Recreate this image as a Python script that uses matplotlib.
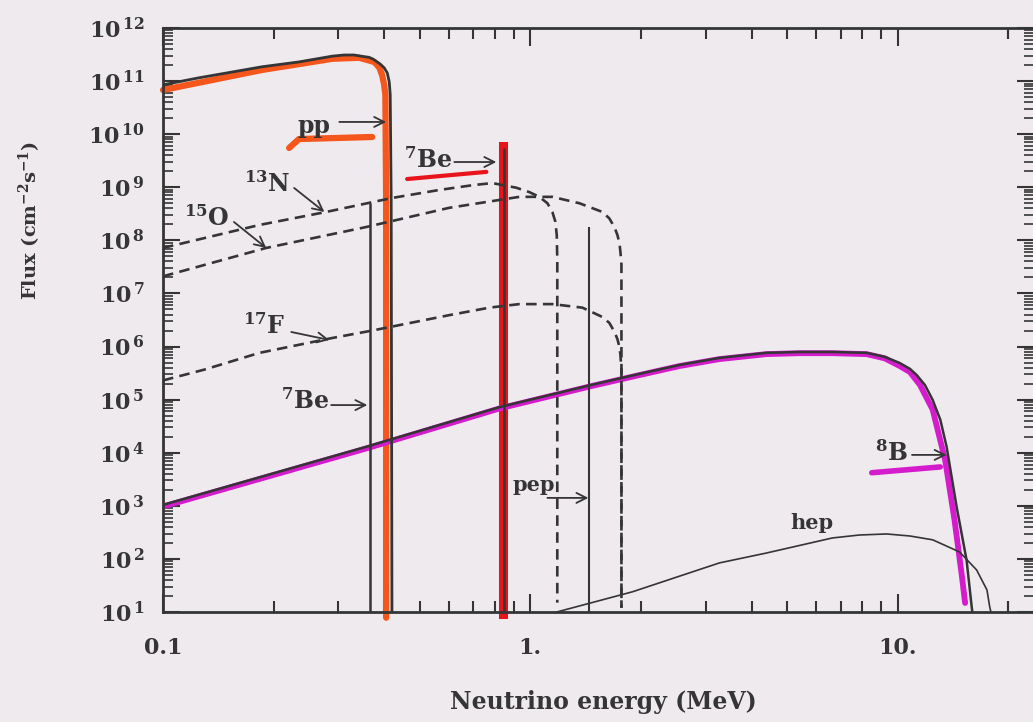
import matplotlib.pyplot as plt
from matplotlib.ticker import FixedLocator, NullFormatter

plt.rcParams['font.family'] = ['DejaVu Serif']
plt.rcParams['font.weight'] = 'bold'
plt.rcParams['mathtext.fontset'] = 'dejavuserif'

TINTA = '#353535'
FONDO = '#eeeaee'
NARANJA = '#f4561c'
ROJO = '#e8141c'
MAGENTA = '#d41ccc'

# espectro pp (MeV, cm-2 s-1)
pp_e = [0.100, 0.125, 0.186, 0.235, 0.289, 0.311, 0.331, 0.346, 0.364, 0.373, 0.383, 0.390,
        0.400, 0.408, 0.413, 0.4155, 0.418, 0.420]
pp_f = [8.5e10, 1.15e11, 1.86e11, 2.3e11, 2.95e11, 3.1e11, 3.1e11, 2.95e11, 2.8e11, 2.6e11,
        2.29e11, 2.1e11, 1.78e11, 1.42e11, 9.6e10, 5.5e10, 5.75e8, 9.0]
pp_marca_e = [0.100, 0.186, 0.289, 0.342, 0.376, 0.388, 0.395, 0.400, 0.403, 0.405, 0.405]
pp_marca_f = [6.8e10, 1.62e11, 2.63e11, 2.75e11, 2.29e11, 1.8e11, 1.29e11, 8.5e10, 5.5e10, 5.75e8, 7.8]

# lineas 7Be y pep
be7_e = [0.366, 0.850]
be7_f = [5.0e8, 5.5e9]
be7_marca_e = [0.843, 0.843]
be7_marca_f = [6.0e9, 9.0]
pep_e = [1.44]
pep_f = [1.8e8]

# ciclo CNO
n13_e = [0.100, 0.183, 0.278, 0.421, 0.565, 0.700, 0.788, 0.916, 0.994, 1.058, 1.113, 1.148,
         1.170, 1.180, 1.184, 1.184]
n13_f = [7.2e7, 1.95e8, 3.43e8, 6.3e8, 8.9e8, 1.1e9, 1.2e9, 9.8e8, 8.1e8, 6.6e8, 5.0e8, 3.43e8,
         2.24e8, 1.26e8, 4.3e7, 15]
o15_e = [0.100, 0.191, 0.357, 0.601, 0.933, 1.148, 1.360, 1.571, 1.640, 1.694, 1.726, 1.748,
         1.759, 1.770, 1.770]
o15_f = [2.1e7, 7.2e7, 1.78e8, 4.1e8, 6.6e8, 6.6e8, 5.0e8, 3.43e8, 2.6e8, 1.78e8, 1.26e8, 8.9e7,
         6.0e7, 3.5e7, 12]
f17_e = [0.100, 0.130, 0.183, 0.289, 0.371, 0.601, 0.773, 0.933, 1.148, 1.386, 1.571, 1.640,
         1.694, 1.726, 1.748, 1.759, 1.770, 1.770]
f17_f = [2.3e5, 3.7e5, 7.6e5, 1.45e6, 2.0e6, 3.9e6, 5.4e6, 6.3e6, 6.3e6, 5.4e6, 3.6e6, 2.8e6,
         1.9e6, 1.38e6, 9.8e5, 6.9e5, 3.6e5, 12]

# 8B y hep
b8_e = [0.100, 0.357, 0.823, 1.466, 1.98, 2.55, 3.27, 4.39, 5.41, 6.64, 8.23, 9.22, 10.13, 10.8,
        11.27, 11.86, 12.45, 13.06, 13.59, 14.47, 15.4, 15.9, 16.0]
b8_f = [1.04e3, 1.29e4, 7.2e4, 1.89e5, 3.05e5, 4.5e5, 6.1e5, 7.6e5, 7.9e5, 7.9e5, 7.6e5, 6.4e5,
        4.9e5, 3.8e5, 2.9e5, 1.89e5, 9.9e4, 4.2e4, 1.29e4, 955, 95, 12.6, 9]
b8_marca_e = [0.100, 0.357, 0.823, 1.466, 1.98, 2.55, 3.27, 4.39, 5.41, 6.64, 8.23, 9.22, 10.13,
              10.8, 11.5, 12.45, 13.47, 14.28, 14.94, 15.26]
b8_marca_f = [0.97e3, 1.2e4, 6.8e4, 1.8e5, 2.9e5, 4.3e5, 5.8e5, 7.2e5, 7.5e5, 7.5e5, 7.2e5, 6.0e5,
              4.3e5, 3.3e5, 1.89e5, 6.5e4, 7.2e3, 540, 50, 14.8]
hep_e = [1.18, 1.896, 3.27, 4.39, 6.64, 7.87, 9.34, 10.8, 12.45, 14.74, 16.40, 17.5, 17.8, 18.0]
hep_f = [10, 24, 84, 129, 248, 282, 295, 270, 229, 135, 62, 26, 12.6, 9]

# subrayados a mano
pp_raya_e = [0.2205, 0.2345, 0.371]
pp_raya_f = [5.5e9, 8.1e9, 8.85e9]
be7_raya_e = [0.462, 0.759]
be7_raya_f = [1.43e9, 1.95e9]
b8_raya_e = [8.50, 13.06]
b8_raya_f = [4.2e3, 5.4e3]

# etiquetas: texto, E, flujo, alineacion, tamanio
etiquetas = [
    ('pp', 0.258, 1.4e10, 'center', 17),
    (r'$^{\mathbf{7}}\mathbf{Be}$', 0.613, 3.27e9, 'right', 17),
    (r'$^{\mathbf{13}}\mathbf{N}$', 0.222, 1.15e9, 'right', 17),
    (r'$^{\mathbf{15}}\mathbf{O}$', 0.152, 2.6e8, 'right', 17),
    (r'$^{\mathbf{17}}\mathbf{F}$', 0.215, 2.45e6, 'right', 17),
    (r'$^{\mathbf{7}}\mathbf{Be}$', 0.2835, 9.4e4, 'right', 17),
    ('pep', 1.02, 2.45e3, 'center', 15),
    (r'$^{\mathbf{8}}\mathbf{B}$', 10.67, 1.0e4, 'right', 17),
    ('hep', 5.83, 480, 'center', 15),
]
flechas = [
    ((0.302, 1.7e10), (0.405, 1.7e10)),
    ((0.621, 2.99e9), (0.808, 2.99e9)),
    ((0.2275, 9.7e8), (0.275, 3.43e8)),
    ((0.156, 2.22e8), (0.191, 7.2e7)),
    ((0.2235, 1.88e6), (0.2835, 1.33e6)),
    ((0.287, 7.9e4), (0.360, 7.9e4)),
    ((1.113, 1.41e3), (1.439, 1.41e3)),
    ((10.94, 9.1e3), (13.59, 9.1e3)),
]

fig = plt.figure(figsize=(10.33, 7.22), dpi=100, facecolor=FONDO)
ax = fig.add_axes([163 / 1033, 110 / 722, 871 / 1033, 584 / 722])
ax.set_facecolor(FONDO)
ax.set_xscale('log')
ax.set_yscale('log')
ax.set_xlim(0.1, 23.5)
ax.set_ylim(10, 1e12)

# marcas de resaltador (debajo)
ax.plot(pp_marca_e, pp_marca_f, color=NARANJA, lw=4.5, solid_capstyle='round',
        solid_joinstyle='round', zorder=2, clip_on=False)
ax.plot(be7_marca_e, be7_marca_f, color=ROJO, lw=6.5, zorder=2, clip_on=False)
ax.plot(b8_marca_e, b8_marca_f, color=MAGENTA, lw=4.2, solid_capstyle='round',
        solid_joinstyle='round', zorder=2)
ax.plot(pp_raya_e, pp_raya_f, color=NARANJA, lw=4.5, solid_capstyle='round', zorder=2)
ax.plot(be7_raya_e, be7_raya_f, color=ROJO, lw=3, solid_capstyle='round', zorder=2)
ax.plot(b8_raya_e, b8_raya_f, color=MAGENTA, lw=4, solid_capstyle='round', zorder=2)

# espectros
ax.plot(pp_e, pp_f, color=TINTA, lw=2.0, solid_joinstyle='round', zorder=3)
ax.plot(b8_e, b8_f, color=TINTA, lw=1.8, solid_joinstyle='round', zorder=3)
ax.plot(hep_e, hep_f, color=TINTA, lw=1.2, solid_joinstyle='round', zorder=3)
guion = (0, (4.0, 2.4))
for e, f in [(n13_e, n13_f), (o15_e, o15_f), (f17_e, f17_f)]:
    ax.plot(e, f, color=TINTA, lw=1.9, linestyle=guion, zorder=3)
ax.vlines(be7_e, 10, be7_f, color=TINTA, lw=1.8, zorder=3)
ax.vlines(pep_e, 10, pep_f, color=TINTA, lw=1.5, zorder=3)

for texto, e, f, ha, tam in etiquetas:
    ax.text(e, f, texto, ha=ha, va='center', fontsize=tam, color=TINTA, zorder=4)
for cola, punta in flechas:
    ax.annotate('', xy=punta, xytext=cola,
                arrowprops=dict(arrowstyle='->', color=TINTA, lw=1.3, mutation_scale=18,
                                shrinkA=0, shrinkB=0), zorder=4)

# ejes
for s in ax.spines.values():
    s.set_linewidth(2.0)
    s.set_color(TINTA)

ax.xaxis.set_major_locator(FixedLocator([0.1, 1, 10]))
ax.set_xticklabels(['0.1', '1.', '10.'])
menores_x = [m * d for d in [0.1, 1, 10] for m in range(2, 10)] + [20]
ax.xaxis.set_minor_locator(FixedLocator(menores_x))
ax.xaxis.set_minor_formatter(NullFormatter())

decadas = [10.0 ** k for k in range(1, 13)]
ax.yaxis.set_major_locator(FixedLocator(decadas))
ax.set_yticklabels([r'$\mathbf{10}^{\,\mathbf{%d}}$' % k for k in range(1, 13)])
menores_y = [m * 10.0 ** k for k in range(1, 12) for m in range(2, 10)]
ax.yaxis.set_minor_locator(FixedLocator(menores_y))
ax.yaxis.set_minor_formatter(NullFormatter())

ax.tick_params(axis='x', which='both', direction='in', top=True, color=TINTA,
               labelcolor=TINTA, labelsize=16, pad=18)
ax.tick_params(axis='x', which='major', length=13, width=1.5)
ax.tick_params(axis='x', which='minor', length=8, width=1.5)
ax.tick_params(axis='y', which='both', direction='in', right=True, color=TINTA,
               labelcolor=TINTA, labelsize=16, pad=13)
ax.tick_params(axis='y', which='major', length=12, width=1.5)
ax.tick_params(axis='y', which='minor', length=7, width=1.2)

fig.text(603 / 1033, 1 - 702 / 722, 'Neutrino energy (MeV)', ha='center', va='center',
         fontsize=17, color=TINTA)
fig.text(30 / 1033, 1 - 220 / 722, r'Flux (cm$^{\mathbf{-2}}$s$^{\mathbf{-1}}$)', ha='center',
         va='center', rotation=90, fontsize=14, color=TINTA)

fig.savefig('out.png', dpi=100, facecolor=FONDO)
